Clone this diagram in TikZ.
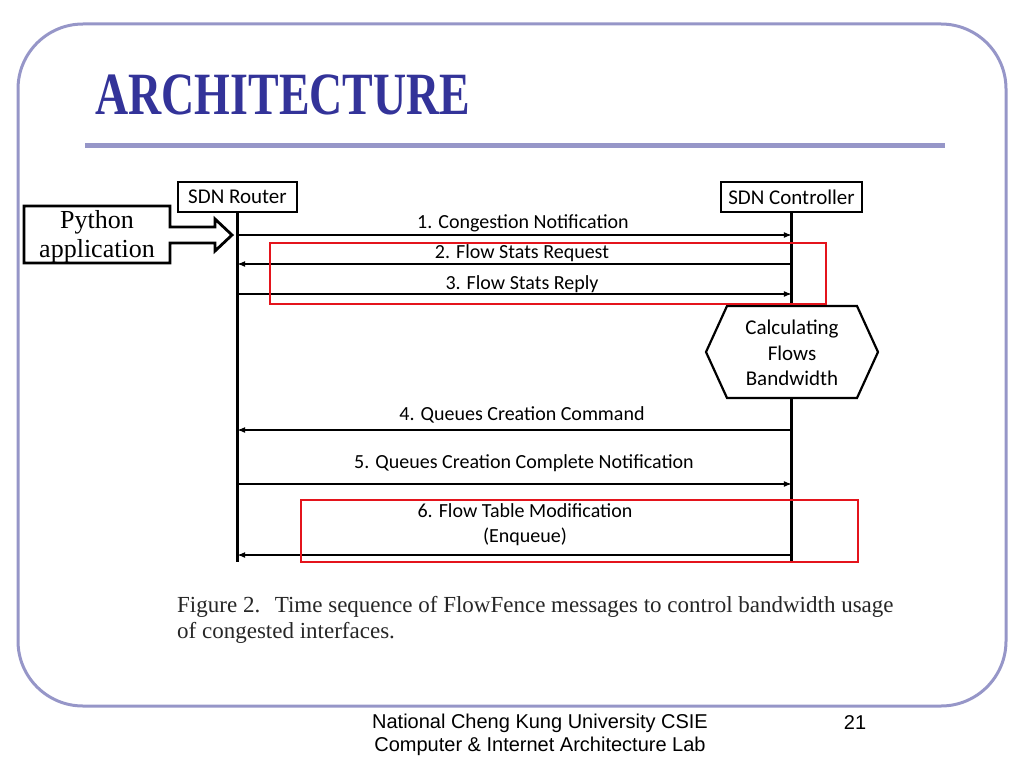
\documentclass[tikz,border=0pt]{standalone}
\usepackage{fontspec}
\setmainfont{Liberation Serif}
\newfontfamily\calib{Carlito}
\newfontfamily\arialf{Liberation Sans}
\usetikzlibrary{positioning}
\definecolor{framegray}{RGB}{150,150,200}
\definecolor{titleblue}{RGB}{51,51,153}
\definecolor{boxred}{RGB}{228,20,28}

\begin{document}
\begin{tikzpicture}[x=1pt, y=-1pt,
  actor/.style={draw=black, line width=2pt, inner sep=0pt, minimum height=30pt, font=\calib\fontsize{21}{24}\selectfont},
  life/.style={line width=2.2pt},
  msg/.style={line width=1.6pt, -latex},
  lbl/.style={font=\calib\fontsize{20}{25}\selectfont, align=center, inner sep=0pt},
  redbox/.style={draw=boxred, line width=2pt}]
\useasboundingbox (0,0) rectangle (1024,768);

% slide frame
\draw[framegray, line width=3pt, rounded corners=65pt] (18,24) rectangle (1006,706);
\node[font=\bfseries\fontsize{60}{60}\selectfont, text=titleblue, inner sep=0pt] (title) at (283,95) {\scalebox{0.765}[1]{ARCHITECTURE}};
\draw[framegray, line width=5pt] (85,145) -- (945,145);

% actors
\node[actor, minimum width=119pt] (router) at (237.5,197) {SDN Router};
\node[actor, minimum width=141pt] (ctrl) at (791.5,197) {SDN Controller};
\draw[life] (router.south) -- (router.south |- 0,562);
\draw[life] (ctrl.south) -- (ctrl.south |- 0,562);

% messages
\node[lbl] (m1) at (523,223) {1. Congestion Notification};
\draw[msg] (router |- 0,235) -- (ctrl |- 0,235);
\node[lbl] (m2) at (522,253) {2. Flow Stats Request};
\draw[msg] (ctrl |- 0,264) -- (router |- 0,264);
\node[lbl] (m3) at (522,284) {3. Flow Stats Reply};
\draw[msg] (router |- 0,294) -- (ctrl |- 0,294);

\draw[line width=2.2pt, fill=white] (706,352) -- (727,306) -- (857,306) -- (878,352) -- (857,398) -- (727,398) -- cycle;
\node[lbl, font=\calib\fontsize{21}{25.5}\selectfont] (calc) at (792,353) {Calculating\\Flows\\Bandwidth};

\node[lbl] (m4) at (522,415) {4. Queues Creation Command};
\draw[msg] (ctrl |- 0,430) -- (router |- 0,430);
\node[lbl] (m5) at (524,463) {5. Queues Creation Complete Notification};
\draw[msg] (router |- 0,484) -- (ctrl |- 0,484);
\node[lbl] (m6) at (525,525) {6. Flow Table Modification\\(Enqueue)};
\draw[msg] (ctrl |- 0,555) -- (router |- 0,555);

% highlights
\draw[redbox] (270,243) rectangle (826,304);
\draw[redbox] (301,500) rectangle (858,562);

% python app
\node[font=\fontsize{26}{29}\selectfont, align=center, inner sep=0pt] (py) at (97,237) {Python\\application};
\draw[line width=2.8pt, line join=miter] (24,206) -- (170,206) -- (170,227) -- (215,227) -- (215,219) -- (232,235) -- (215,251) -- (215,243) -- (170,243) -- (170,263) -- (24,263) -- cycle;

% caption
\node[font=\fontsize{23}{26}\selectfont, text=black!85, align=left, anchor=north west, inner sep=0pt] (cap) at (177,596) {Figure 2.\hspace{0.3em} Time sequence of FlowFence messages to control bandwidth usage\\of congested interfaces.};

% footer
\node[font=\arialf\fontsize{20}{23}\selectfont, align=center, inner sep=0pt] (foot) at (540,735) {National Cheng Kung University CSIE\\Computer \& Internet Architecture Lab};
\node[font=\arialf\fontsize{20}{23}\selectfont, inner sep=0pt] (page) at (855,723) {21};
\end{tikzpicture}
\end{document}
